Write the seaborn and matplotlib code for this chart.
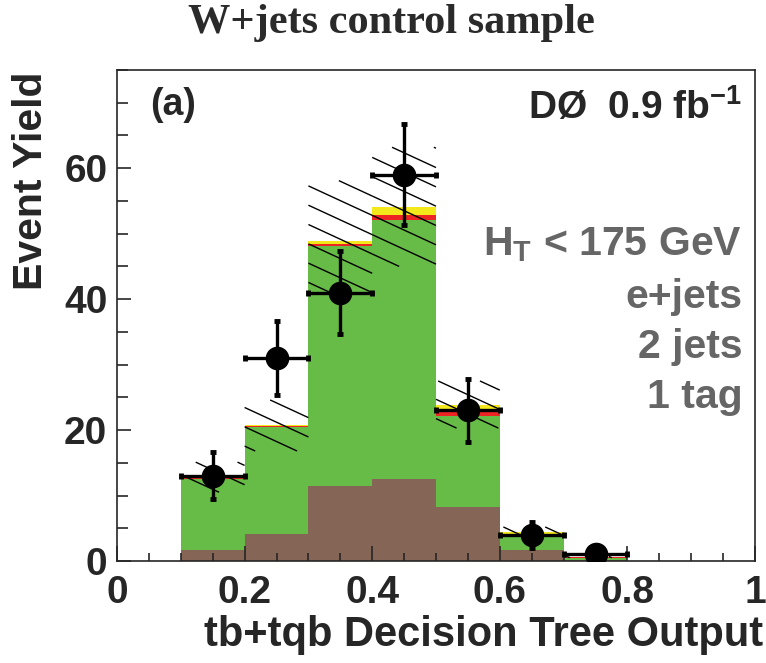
import numpy as np
import pandas as pd
import matplotlib
matplotlib.use("Agg")
import matplotlib.pyplot as plt
import seaborn as sns
from matplotlib.collections import LineCollection
from matplotlib.ticker import MultipleLocator, FixedLocator, FixedFormatter

# ---- histogram content (bins of width 0.1 on the decision-tree output) ----
bin_edges = [0.0, 0.1, 0.2, 0.3, 0.4, 0.5, 0.6, 0.7, 0.8, 0.9, 1.0]
bin_centers = [0.15, 0.25, 0.35, 0.45, 0.55, 0.65, 0.75]

ttbar = [1.7, 4.2, 11.5, 12.6, 8.2, 1.7, 0.2]
wjets = [10.9, 16.3, 36.6, 39.5, 13.9, 2.0, 0.3]
tqb = [0.15, 0.05, 0.3, 0.7, 0.7, 0.2, 0.05]
tb = [0.05, 0.15, 0.5, 1.3, 1.1, 0.5, 0.05]

bkg_unc = [2.3, 3.9, 9.2, 9.1, 3.6, 0.8, 0.1]

data_counts = [13, 31, 41, 59, 23, 4, 1]
data_err = [3.6, 5.6, 6.4, 7.7, 4.8, 2.0, 1.0]

x_tick_values = [0, 0.2, 0.4, 0.6, 0.8, 1.0]
x_tick_labels = ["0", "0.2", "0.4", "0.6", "0.8", "1"]
y_tick_values = [0, 20, 40, 60]
y_tick_labels = ["0", "20", "40", "60"]

colors = {"tb": "#f2e81c", "tqb": "#ee2424", "W+jets": "#67bb47", "ttbar": "#856656"}

sns.set_style("ticks")
plt.rcParams["font.family"] = ["Liberation Sans", "DejaVu Sans"]
plt.rcParams["font.weight"] = "bold"
plt.rcParams["mathtext.fontset"] = "custom"
plt.rcParams["mathtext.rm"] = "Liberation Sans:bold"
plt.rcParams["mathtext.bf"] = "Liberation Sans:bold"
plt.rcParams["mathtext.it"] = "Liberation Sans:bold"

W, H = 766, 663
fig = plt.figure(figsize=(W / 100, H / 100), dpi=100)
ax = fig.add_axes([117 / W, 1 - 561 / H, 638 / W, 491 / H])

# long-form table for the stacked histogram
rows = []
for name, vals in [("tb", tb), ("tqb", tqb), ("W+jets", wjets), ("ttbar", ttbar)]:
    for xc, v in zip(bin_centers, vals):
        rows.append({"x": xc, "w": v, "comp": name})
df = pd.DataFrame(rows)

sns.histplot(data=df, x="x", weights="w", hue="comp",
             hue_order=["tb", "tqb", "W+jets", "ttbar"],
             multiple="stack", bins=bin_edges, palette=colors,
             alpha=1, linewidth=0, legend=False, ax=ax)
for p in ax.patches:
    p.set_zorder(0.5)

# hatched background uncertainty band around the stacked total:
# slanted lines, each cut to the band rectangle of its bin
totals = (np.asarray(ttbar, float) + np.asarray(wjets, float)
          + np.asarray(tqb, float) + np.asarray(tb, float))
slope = -45.0
spacing = 2.95
segs = []
for i in range(len(totals)):
    tot = float(totals[i])
    u = float(bkg_unc[i])
    x0 = float(bin_edges[i + 1])
    x1 = float(bin_edges[i + 2])
    lo, hi = tot - u, tot + u
    n_lo = int(np.floor((lo - slope * x0) / spacing)) - 1
    n_hi = int(np.ceil((hi - slope * x1) / spacing)) + 1
    for n in range(n_lo, n_hi + 1):
        c = n * spacing
        xa = max(x0, (hi - c) / slope)
        xb = min(x1, (lo - c) / slope)
        if xb > xa:
            segs.append([(xa, c + slope * xa), (xb, c + slope * xb)])
hatch = LineCollection(segs, colors="black", linewidths=1.0)
hatch.set_zorder(6)
ax.add_collection(hatch, autolim=False)

# data points
ax.errorbar(bin_centers, data_counts, xerr=0.05, yerr=data_err, fmt="o",
            color="black", ms=16, elinewidth=2.4, capsize=2.5, capthick=3.5,
            zorder=7)

ax.set_xlim(0, 1)
ax.set_ylim(0, 75)
ax.xaxis.set_major_locator(FixedLocator(x_tick_values))
ax.xaxis.set_major_formatter(FixedFormatter(x_tick_labels))
ax.xaxis.set_minor_locator(MultipleLocator(0.05))
ax.yaxis.set_major_locator(FixedLocator(y_tick_values))
ax.yaxis.set_major_formatter(FixedFormatter(y_tick_labels))
ax.yaxis.set_minor_locator(MultipleLocator(5))
ax.tick_params(axis="both", which="both", direction="in", width=1.2,
               top=False, right=False, labelsize=28)
ax.tick_params(axis="x", which="major", length=11, pad=10)
ax.tick_params(axis="x", which="minor", length=6)
ax.tick_params(axis="y", which="major", length=10, pad=7)
ax.tick_params(axis="y", which="minor", length=8)
for lab in ax.get_xticklabels() + ax.get_yticklabels():
    lab.set_fontweight("bold")
for sp in ax.spines.values():
    sp.set_linewidth(1.2)
ax.set_xlabel("")
ax.set_ylabel("")

fig.text(763 / W, 1 - 635 / H, "tb+tqb Decision Tree Output", ha="right",
         va="center", fontsize=30, fontweight="bold")
fig.text(31 / W, 1 - 72 / H, "Event Yield", ha="center", va="top",
         rotation=90, fontsize=29.5, fontweight="bold")
fig.text(391 / W, 1 - 33 / H, "W+jets control sample", ha="center",
         va="baseline", family="Liberation Serif", fontsize=30.5,
         color="#2a2a2a")

ax.text(0.052, 0.929, "(a)", transform=ax.transAxes, ha="left", va="center",
        fontsize=27, fontweight="bold")
ax.text(0.98, 0.923, r"DØ  0.9 fb$^{\mathbf{-1}}$", transform=ax.transAxes,
        ha="right", va="center", fontsize=28, fontweight="bold")

grey = "#666666"
for ypos, txt in [(0.644, r"H$_\mathbf{T}$ < 175 GeV"), (0.538, "e+jets"),
                  (0.436, "2 jets"), (0.334, "1 tag")]:
    ax.text(0.98, ypos, txt, transform=ax.transAxes, ha="right",
            va="center", fontsize=29.5, fontweight="bold", color=grey)

fig.savefig("out.png", dpi=100)
